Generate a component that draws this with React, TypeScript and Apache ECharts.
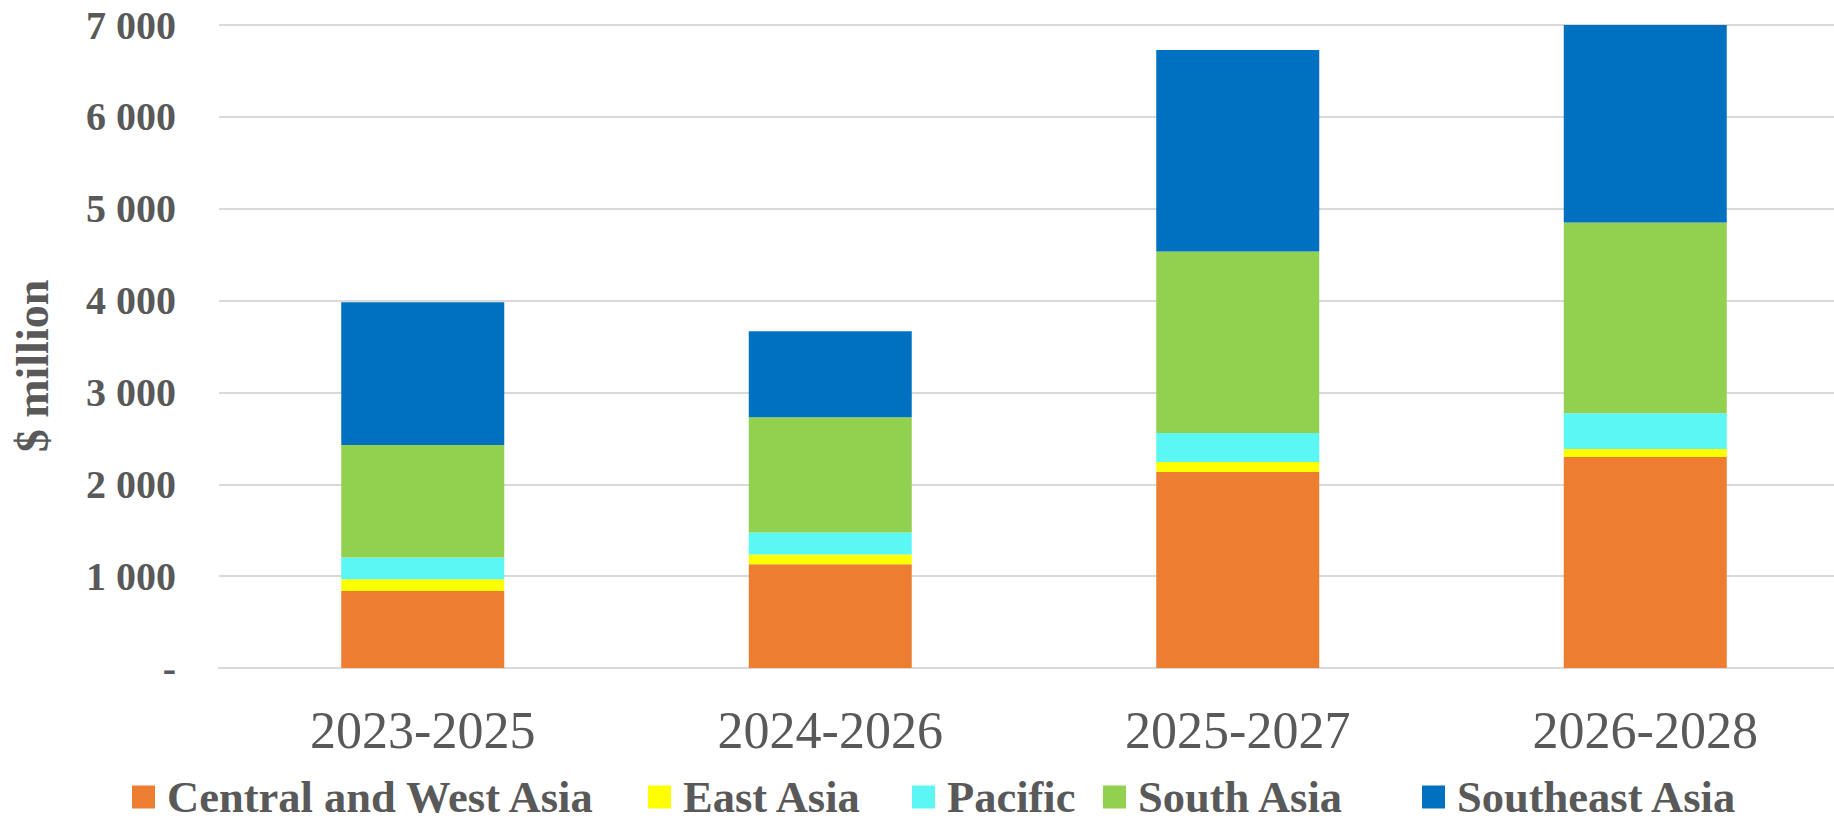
import React, { useEffect, useRef } from "react";
import * as echarts from "echarts";

const categories = ["2023-2025", "2024-2026", "2025-2027", "2026-2028"];
const seriesNames = ["Central and West Asia", "East Asia", "Pacific", "South Asia", "Southeast Asia"];
const centralWestAsia = [839, 1130, 2133, 2296];
const eastAsia = [128, 106, 109, 88];
const pacific = [236, 240, 316, 389];
const southAsia = [1224, 1253, 1976, 2077];
const southeastAsia = [1556, 937, 2195, 2150];
const seriesColors = ["#ED7D31", "#FFFF00", "#5BF7F4", "#92D050", "#0070C0"];
const legendLefts = [132, 648, 912, 1103, 1422];

const FONT = "'Liberation Serif', 'Times New Roman', serif";
const TEXT = "#595959";

export default function App() {
  const ref = useRef<HTMLDivElement>(null);
  useEffect(() => {
    if (!ref.current) return;
    const chart = echarts.init(ref.current, undefined, { renderer: "svg" });
    const values = [centralWestAsia, eastAsia, pacific, southAsia, southeastAsia];
    const fmt = (v: number) => {
      if (v === 0) return "-";
      const s = String(Math.round(v));
      return s.replace(/\B(?=(\d{3})+(?!\d))/g, " ");
    };
    chart.setOption({
      animation: false,
      backgroundColor: "#ffffff",
      textStyle: { fontFamily: FONT },
      grid: { left: 219, top: 25, width: 1630, height: 643, containLabel: false },
      legend: seriesNames.map((n, i) => ({
        data: [n],
        left: legendLefts[i],
        top: 774,
        padding: 0,
        itemWidth: 23,
        itemHeight: 23,
        icon: "rect",
        selectedMode: false,
        textStyle: {
          fontFamily: FONT,
          fontSize: 44.5,
          fontWeight: "bold",
          color: TEXT,
          lineHeight: 46,
          padding: [0, 0, 0, 7],
        },
      })),
      xAxis: {
        type: "category",
        data: categories,
        axisLine: { show: true, lineStyle: { color: "#D9D9D9", width: 2 } },
        axisTick: { show: false },
        axisLabel: { fontFamily: FONT, fontSize: 52, color: TEXT, margin: 36 },
      },
      yAxis: {
        type: "value",
        min: 0,
        max: 7000,
        interval: 1000,
        axisLine: { show: false },
        axisTick: { show: false },
        splitLine: { lineStyle: { color: "#D9D9D9", width: 2 } },
        axisLabel: {
          fontFamily: FONT,
          fontSize: 40,
          fontWeight: "bold",
          color: TEXT,
          margin: 43,
          formatter: fmt,
        },
      },
      graphic: [
        {
          type: "text",
          x: 32,
          y: 366,
          rotation: Math.PI / 2,
          style: {
            text: "$ million",
            fontFamily: FONT,
            fontSize: 46,
            fontWeight: "bold",
            fill: TEXT,
            textAlign: "center",
            textVerticalAlign: "middle",
          },
        },
      ],
      series: seriesNames.map((n, i) => ({
        name: n,
        type: "bar",
        stack: "total",
        barWidth: "40%",
        data: values[i],
        itemStyle: { color: seriesColors[i] },
      })),
    });
    return () => chart.dispose();
  }, []);
  return (
    <div
      style={{
        position: "absolute",
        left: 0,
        top: 0,
        width: 1834,
        height: 822,
        overflow: "hidden",
        background: "#ffffff",
      }}
    >
      <div ref={ref} style={{ position: "absolute", left: 0, top: 0, width: 1852, height: 822 }} />
    </div>
  );
}
